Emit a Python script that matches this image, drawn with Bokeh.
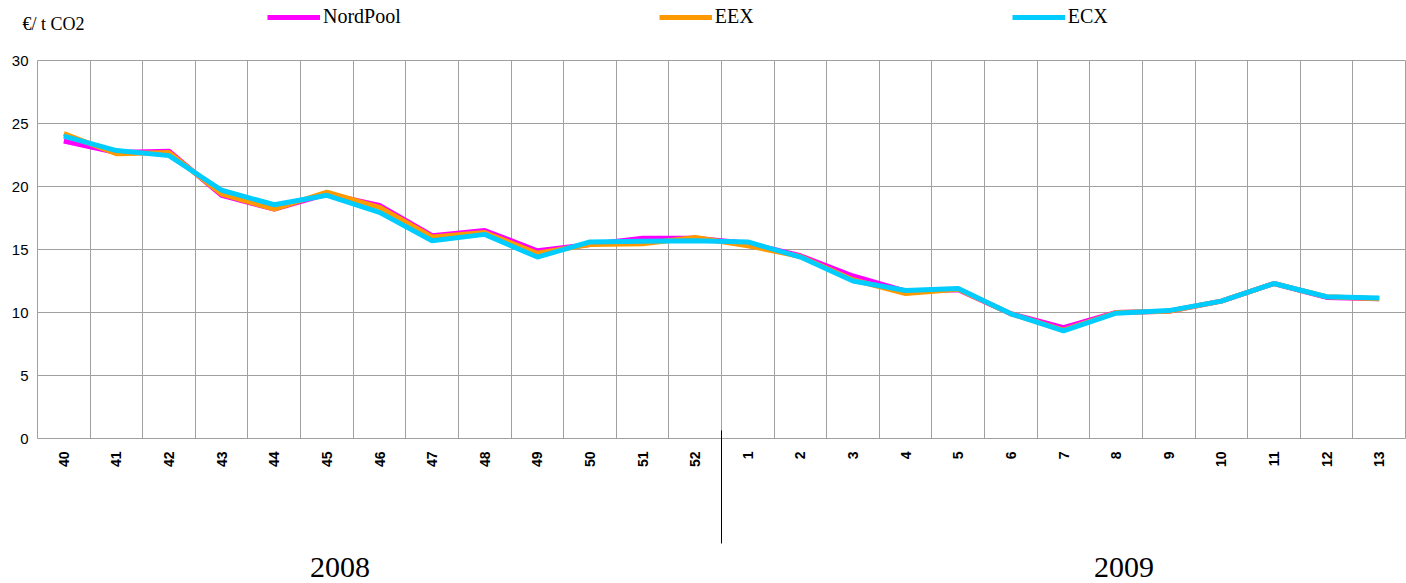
from math import pi
from bokeh.plotting import figure
from bokeh.layouts import column
from bokeh.models import (FixedTicker, Range1d, Legend, LegendItem, LinearAxis, Label)
from bokeh.embed import file_html
from bokeh.resources import INLINE

# ---- data ----
weeks = ["40", "41", "42", "43", "44", "45", "46", "47", "48", "49", "50", "51", "52",
         "1", "2", "3", "4", "5", "6", "7", "8", "9", "10", "11", "12", "13"]
nordpool = [23.6, 22.7, 22.8, 19.3, 18.2, 19.4, 18.5, 16.1, 16.5, 14.9, 15.4, 15.9, 15.9,
            15.5, 14.5, 12.9, 11.7, 11.8, 9.9, 8.8, 10.0, 10.1, 10.9, 12.3, 11.2, 11.1]
eex = [24.2, 22.6, 22.7, 19.4, 18.2, 19.55, 18.35, 16.0, 16.35, 14.7, 15.4, 15.45, 15.95,
       15.3, 14.45, 12.6, 11.5, 11.85, 9.9, 8.6, 10.0, 10.1, 10.9, 12.3, 11.25, 11.1]
ecx = [24.0, 22.85, 22.45, 19.7, 18.55, 19.3, 17.95, 15.7, 16.2, 14.4, 15.6, 15.65, 15.7,
       15.6, 14.4, 12.5, 11.75, 11.9, 9.9, 8.55, 9.95, 10.15, 10.9, 12.3, 11.25, 11.15]
series_names = ["NordPool", "EEX", "ECX"]
series_colors = ["#FF00FF", "#FF9900", "#00CCFF"]
years = ["2008", "2009"]
y_ticks = [0, 5, 10, 15, 20, 25, 30]
y_title = "€/ t CO2"

n = len(weeks)
centers = [i + 0.5 for i in range(n)]
year_break = weeks.index("1")          # boundary between the two years
year_pos = [5.75, 20.65]               # where the year captions sit

GRID = "#a0a0a0"
W = 1406
HEAD_H = 52
MAIN_H = 583 - HEAD_H

# ---------------- header: unit caption + legend ----------------
head = figure(width=W, height=HEAD_H, output_backend="svg", toolbar_location=None,
              x_axis_location=None, y_axis_location=None,
              x_range=Range1d(0, W), y_range=Range1d(0, HEAD_H),
              min_border=0, min_border_left=0, min_border_right=0,
              min_border_top=0, min_border_bottom=0)
head.frame_align = False
head.grid.visible = False
head.outline_line_color = None
head.background_fill_color = "white"
head.border_fill_color = "white"

nan = float("nan")
legend_rends = [head.line([nan], [nan], line_color=c, line_width=5) for c in series_colors]
lg = Legend(items=[LegendItem(label=nm, renderers=[r]) for nm, r in zip(series_names, legend_rends)],
            orientation="horizontal", location=(267, 24),
            padding=0, margin=0, spacing=258, border_line_color=None,
            background_fill_alpha=0, glyph_width=53, glyph_height=20,
            label_height=20, label_standoff=3,
            label_text_font="Liberation Serif", label_text_font_size="20px",
            label_text_color="black")
head.add_layout(lg)
head.add_layout(Label(x=22, y=HEAD_H - 23, text=y_title, text_font="Liberation Serif",
                      text_font_size="18px", text_color="black",
                      text_baseline="alphabetic"))

# ---------------- main chart ----------------
p = figure(width=W, height=MAIN_H, output_backend="svg", toolbar_location=None,
           x_range=Range1d(0, n), y_range=Range1d(0, 30),
           min_border_left=37, min_border_right=1, min_border_top=8, min_border_bottom=145)
p.frame_align = False
p.background_fill_color = "white"
p.border_fill_color = "white"
p.outline_line_color = GRID

for vals, c in zip([nordpool, eex, ecx], series_colors):
    p.line(centers, vals, line_color=c, line_width=5)

# x axis (weeks) with the year separator as a long minor tick
xa = p.xaxis[0]
xa.ticker = FixedTicker(ticks=centers, minor_ticks=[year_break])
xa.major_label_overrides = {c: w for c, w in zip(centers, weeks)}
xa.major_label_orientation = pi / 2
xa.major_tick_line_color = None
xa.major_tick_out = 0
xa.major_tick_in = 0
xa.minor_tick_line_color = "black"
xa.minor_tick_line_width = 1
xa.minor_tick_in = 8
xa.minor_tick_out = 105
xa.major_label_standoff = 13 - 105
xa.axis_line_color = None
xa.major_label_text_font = "Liberation Sans"
xa.major_label_text_font_size = "14px"
xa.major_label_text_font_style = "bold"
xa.major_label_text_color = "black"

# second x axis (years)
xa2 = LinearAxis(ticker=FixedTicker(ticks=year_pos),
                 major_label_overrides={year_pos[0]: years[0], year_pos[1]: years[1]})
xa2.axis_line_color = None
xa2.major_tick_line_color = None
xa2.minor_tick_line_color = None
xa2.major_tick_out = 0
xa2.major_tick_in = 0
xa2.major_label_standoff = 87
xa2.major_label_text_font = "Liberation Serif"
xa2.major_label_text_font_size = "30px"
xa2.major_label_text_color = "black"
p.add_layout(xa2, "below")

# y axis
ya = p.yaxis[0]
ya.ticker = FixedTicker(ticks=y_ticks)
ya.major_tick_line_color = None
ya.minor_tick_line_color = None
ya.major_tick_out = 0
ya.major_tick_in = 0
ya.axis_line_color = None
ya.major_label_standoff = 9
ya.major_label_text_font = "Liberation Sans"
ya.major_label_text_font_size = "15px"
ya.major_label_text_color = "black"

# grid
p.xgrid.ticker = FixedTicker(ticks=list(range(n + 1)))
p.xgrid.grid_line_color = GRID
p.ygrid.grid_line_color = GRID

layout = column(head, p, spacing=0)
open("out.html", "w").write(file_html(layout, INLINE))
